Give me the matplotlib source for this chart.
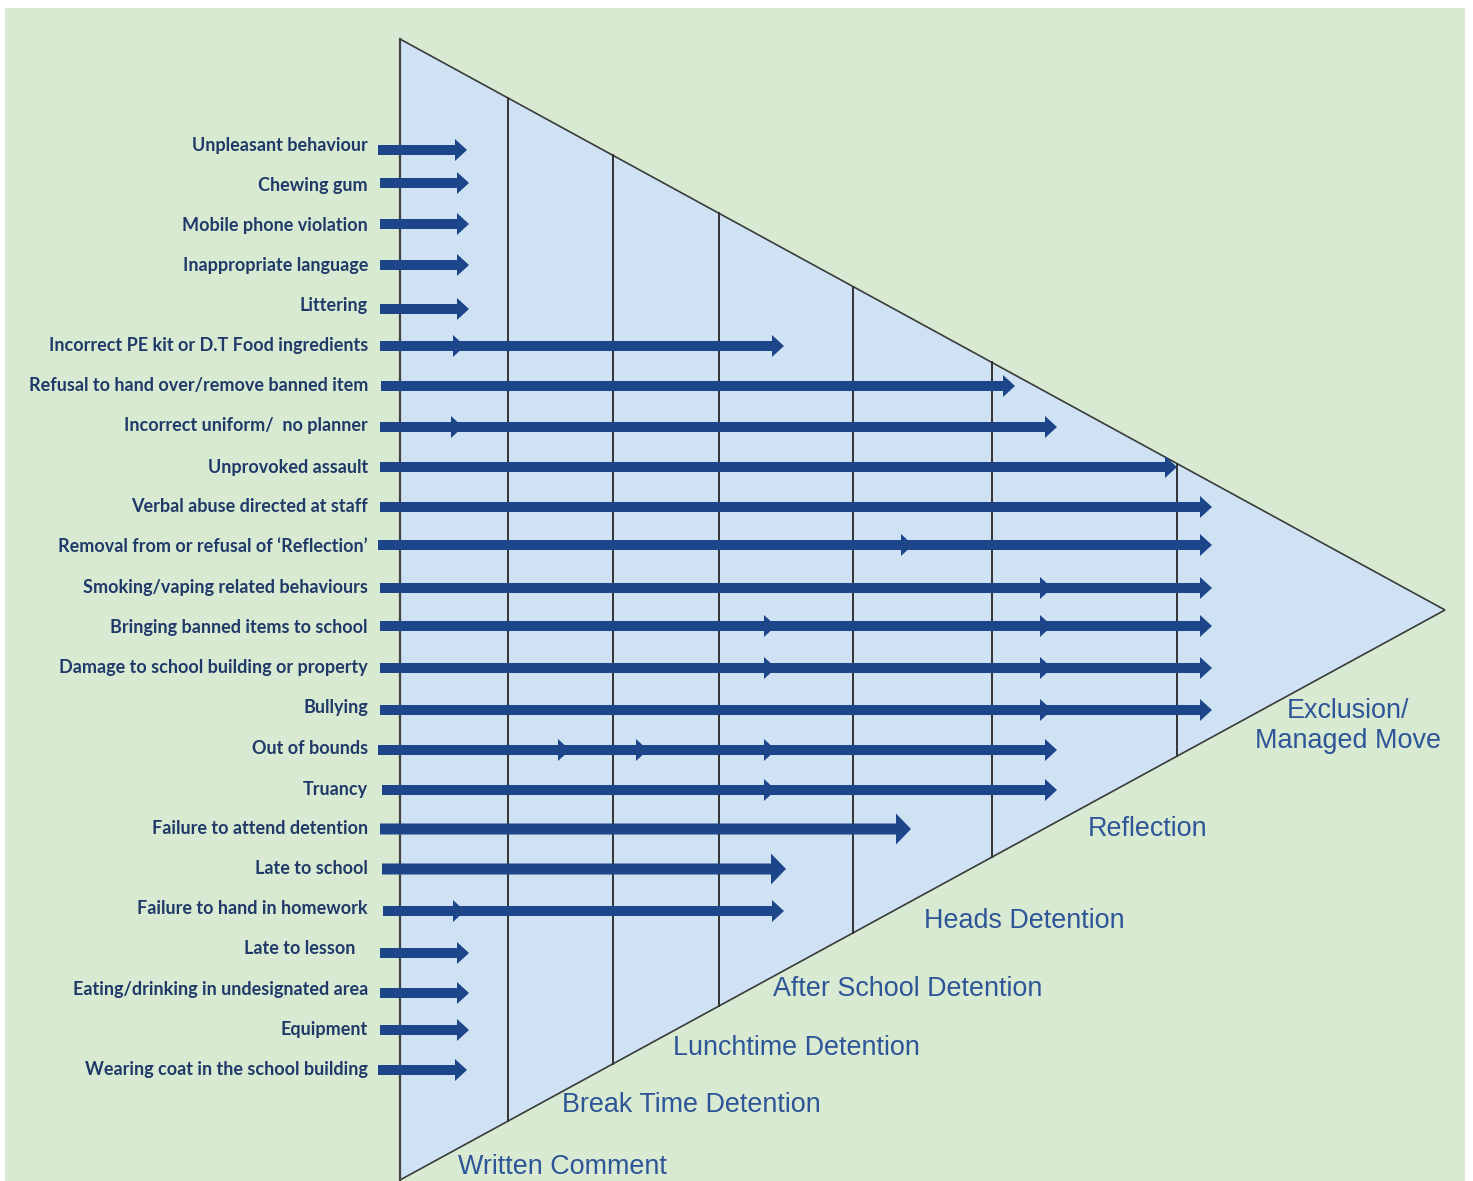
"""Behaviour escalation triangle: offences and the sanction each one reaches."""

import matplotlib.pyplot as plt
from matplotlib.patches import Polygon, Rectangle

# offences, top to bottom
behaviours = [
    "Unpleasant behaviour",
    "Chewing gum",
    "Mobile phone violation",
    "Inappropriate language",
    "Littering",
    "Incorrect PE kit or D.T Food ingredients",
    "Refusal to hand over/remove banned item",
    "Incorrect uniform/  no planner",
    "Unprovoked assault",
    "Verbal abuse directed at staff",
    "Removal from or refusal of \u2018Reflection\u2019",
    "Smoking/vaping related behaviours",
    "Bringing banned items to school",
    "Damage to school building or property",
    "Bullying",
    "Out of bounds",
    "Truancy",
    "Failure to attend detention",
    "Late to school",
    "Failure to hand in homework",
    "Late to lesson   ",
    "Eating/drinking in undesignated area",
    "Equipment",
    "Wearing coat in the school building",
]
label_y = [145, 185, 225, 265, 306, 346, 386, 426, 467, 507, 547, 587,
           627, 668, 708, 748, 789, 829, 869, 909, 949, 990, 1030, 1070]
row_y = [150, 183, 224, 265, 309, 346, 386, 427, 467, 507, 545, 588,
         626, 668, 710, 750, 790, 829, 869, 911, 953, 993, 1030, 1070]
arrow_start = [378, 380, 380, 380, 380, 380, 381, 380, 380, 380, 378, 380,
               380, 380, 380, 378, 382, 380, 382, 383, 380, 380, 380, 378]
# every arrow tip on a row (shorter tips show as heads along the longest one)
arrow_ends = [
    [467], [469], [469], [469], [469],
    [465, 784],
    [1015],
    [463, 1057],
    [1177],
    [1212],
    [913, 1212],
    [1052, 1212],
    [776, 1052, 1212],
    [776, 1052, 1212],
    [1052, 1212],
    [570, 648, 776, 1057],
    [776, 1057],
    [911],
    [786],
    [465, 784],
    [469], [469], [469], [467],
]
big_head_rows = ["Failure to attend detention", "Late to school"]

# sanction stages along the base of the triangle
stages = ["Written Comment", "Break Time Detention", "Lunchtime Detention",
          "After School Detention", "Heads Detention", "Reflection",
          "Exclusion/\nManaged Move"]
stage_dividers = [508, 613, 719, 853, 992, 1177]

BG_GREEN = "#d9ead3"
TRI_BLUE = "#cfe2f3"
ARROW_BLUE = "#1d4589"
LABEL_NAVY = "#1f3a68"
STAGE_BLUE = "#2d5597"

W, H = 1473, 1181
fig = plt.figure(figsize=(W / 100, H / 100), dpi=100, facecolor="white")
ax = fig.add_axes([0, 0, 1, 1])
ax.set_xlim(0, W)
ax.set_ylim(H, 0)
ax.axis("off")

ax.add_patch(Rectangle((5, 8), 1460, H - 8, facecolor=BG_GREEN, edgecolor="none"))

top, apex, bottom = (400, 39), (1445, 610), (400, 1180)
ax.add_patch(Polygon([top, apex, bottom], closed=True, facecolor=TRI_BLUE,
                     edgecolor="#3a3a3a", linewidth=1.2, zorder=1))
ax.plot([400, 400], [top[1], bottom[1]], color="#444444", lw=1.6, zorder=2)


def edge_y(x, p, q):
    return p[1] + (q[1] - p[1]) * (x - p[0]) / (q[0] - p[0])


for x in stage_dividers:
    ax.plot([x, x], [edge_y(x, top, apex), edge_y(x, bottom, apex)],
            color="#333333", lw=1.4, zorder=2)

for name, ly, y, x0, ends in zip(behaviours, label_y, row_y, arrow_start, arrow_ends):
    big = name in big_head_rows
    for x1 in sorted(ends, reverse=True):
        ax.arrow(x0, y, x1 - x0, 0, width=11 if big else 10,
                 head_width=31 if big else 22, head_length=15 if big else 12,
                 length_includes_head=True, color=ARROW_BLUE, lw=0, zorder=3)
    ax.text(368, ly, name, ha="right", va="center", fontsize=13,
            fontweight="bold", family="Lato", color=LABEL_NAVY)

stage_pos = [(458, 1167), (562, 1105), (673, 1048), (773, 989),
             (924, 921), (1088, 829)]
for label, (x, y) in zip(stages[:-1], stage_pos):
    ax.text(x, y, label, ha="left", va="center", fontsize=19.4,
            family="Liberation Sans", color=STAGE_BLUE)
ax.text(1348, 726, stages[-1], ha="center", va="center", fontsize=19.4,
        family="Liberation Sans", color=STAGE_BLUE, linespacing=1.25)

fig.savefig("out.png", dpi=100, facecolor="white")
